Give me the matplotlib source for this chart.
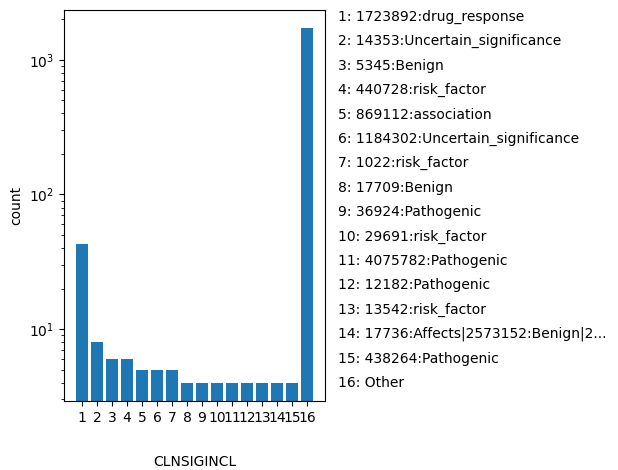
import numpy as np
import matplotlib
matplotlib.use("Agg")
import matplotlib.pyplot as plt

# === DATOS ===
categorias = ["1", "2", "3", "4", "5", "6", "7", "8", "9", "10",
              "11", "12", "13", "14", "15", "16"]
conteos = [43, 8, 6, 6, 5, 5, 5, 4, 4, 4, 4, 4, 4, 4, 4, 1730]
etiquetas = [
    "1723892:drug_response",
    "14353:Uncertain_significance",
    "5345:Benign",
    "440728:risk_factor",
    "869112:association",
    "1184302:Uncertain_significance",
    "1022:risk_factor",
    "17709:Benign",
    "36924:Pathogenic",
    "29691:risk_factor",
    "4075782:Pathogenic",
    "12182:Pathogenic",
    "13542:risk_factor",
    "17736:Affects|2573152:Benign|2...",
    "438264:Pathogenic",
    "Other",
]

# === PLOT ===
fig = plt.figure(figsize=(6.18, 4.70), dpi=100)
ax = fig.add_axes([64/618, 1 - 401/470, (325-64)/618, (401-10)/470])

x = np.arange(1, len(conteos) + 1)
ax.bar(x, conteos, width=0.8, color="#1f77b4")
ax.set_yscale("log")
ax.set_xticks(x)
ax.set_xticklabels(categorias)
ax.set_xlim(-0.19, len(conteos) + 1.19)
ax.set_ylim(2.92, 2350)
ax.set_xlabel("CLNSIGINCL", labelpad=22)
ax.set_ylabel("count")

# leyenda de texto a la derecha
y0 = 1 - 17/470
dy = 24.4/470
for i, (c, e) in enumerate(zip(categorias, etiquetas)):
    fig.text(338/618, y0 - i*dy, f"{c}: {e}", fontsize=10, va="center", ha="left")

fig.savefig("out.png", dpi=100)
